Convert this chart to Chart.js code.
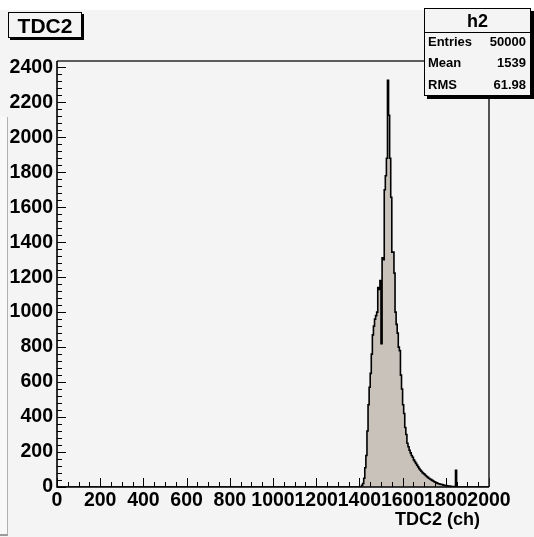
<!DOCTYPE html>
<html><head><meta charset="utf-8">
<script src="https://cdn.jsdelivr.net/npm/chart.js@4.4.0/dist/chart.umd.min.js"></script>
<style>
html,body{margin:0;padding:0;background:#fff;}
#wrap{position:relative;width:534px;height:537px;overflow:hidden;background:#fff;}
#pad{position:absolute;left:0;top:10px;width:534px;height:527px;background:#f4f4f4;}
#side{position:absolute;left:0;top:117px;width:7px;height:417px;background:#f9f9f9;border-right:1px solid #b0b0b0;border-bottom:2px solid #9a9a9a;}
#c{position:absolute;left:0;top:0;}
.t{position:absolute;font-family:"Liberation Sans",Arial,sans-serif;font-weight:bold;color:#000;white-space:nowrap;}
#title{left:8px;top:12px;width:72px;height:24px;border:1px solid #000;box-shadow:2px 2px 0 #000;background:#f4f4f4;font-size:21px;line-height:25px;text-align:center;}
#stats{left:424px;top:8px;width:105px;height:86px;border:1px solid #000;box-shadow:3px 3px 0 #000;background:#f4f4f4;}
#stats .hd{position:absolute;left:0;top:0;width:105px;height:23px;border-bottom:1px solid #000;font-size:18px;line-height:24px;text-align:center;}
#stats .l{position:absolute;left:3px;font-size:13px;line-height:15px;}
#stats .v{position:absolute;right:4px;font-size:13px;line-height:15px;text-align:right;}
#xtitle{left:395px;top:509px;font-size:18px;}
</style>
</head><body>
<div id="wrap">
  <div id="pad"></div>
  <div id="side"></div>
  <canvas id="c" width="534" height="537"></canvas>
  <div id="title" class="t">TDC2</div>
  <div id="stats" class="t">
    <div class="hd">h2</div>
    <div class="l" style="top:25px">Entries</div><div class="v" style="top:25px">50000</div>
    <div class="l" style="top:46px">Mean</div><div class="v" style="top:46px">1539</div>
    <div class="l" style="top:68px">RMS</div><div class="v" style="top:68px">61.98</div>
  </div>
  <div id="xtitle" class="t">TDC2 (ch)</div>
</div>
<script>
// ---- data ----
const histName = "h2";
const xTitle = "TDC2 (ch)";
const xRange = [0, 2000];
const yMax = 2436;
const xTickValues = [0,200,400,600,800,1000,1200,1400,1600,1800,2000];
const yTickValues = [0,200,400,600,800,1000,1200,1400,1600,1800,2000,2200,2400];
const firstBinLow = 1400;   // lower edge of first listed bin (channels)
const binWidth = 5;         // channels per bin
const binCounts = [
  0, 0, 10, 20, 50, 110, 180, 320, 470, 570,
  650, 760, 870, 920, 960, 980, 1000, 1140, 1130, 1180,
  820, 1310, 1300, 1700, 1780, 1880, 2326, 2126, 1880, 1657,
  1343, 1343, 1223, 1000, 930, 880, 800, 780, 640, 560,
  470, 420, 340, 300, 250, 230, 210, 195, 180, 170,
  155, 145, 135, 125, 115, 105, 97, 90, 82, 77,
  72, 66, 60, 55, 50, 46, 42, 38, 34, 30,
  27, 24, 21, 19, 17, 15, 14, 12, 10, 9,
  8, 7, 6, 5, 4, 3, 2, 2, 1, 95,
  0
];

// ---- build step data (lower bin edges) ----
const pts = [{x: xRange[0], y: 0}];
binCounts.forEach((c, i) => pts.push({x: firstBinLow + i * binWidth, y: c}));
pts.push({x: firstBinLow + binCounts.length * binWidth, y: 0});
pts.push({x: xRange[1], y: 0});

const FONT = '"Liberation Sans", Arial, sans-serif';

const frameTicks = {
  id: 'frameTicks',
  afterDatasetsDraw(chart) {
    const {ctx, chartArea: a, scales: {x, y}} = chart;
    ctx.save();
    ctx.strokeStyle = '#000';
    ctx.lineWidth = 1;
    ctx.beginPath();
    for (let v = xRange[0]; v <= xRange[1]; v += 50) {
      const px = Math.round(x.getPixelForValue(v)) + 0.5;
      const len = (v % 200 === 0) ? 9 : 5;
      ctx.moveTo(px, a.bottom); ctx.lineTo(px, a.bottom - len);
    }
    for (let v = 0; v <= yMax; v += 40) {
      const py = Math.round(y.getPixelForValue(v)) + 0.5;
      const len = (v % 200 === 0) ? 9 : 5;
      ctx.moveTo(a.left, py); ctx.lineTo(a.left + len, py);
    }
    ctx.stroke();
    ctx.lineWidth = 1.6;
    ctx.strokeStyle = '#2a2a2a';
    ctx.beginPath();
    ctx.moveTo(a.left, a.top); ctx.lineTo(a.right, a.top); ctx.lineTo(a.right, a.bottom);
    ctx.stroke();
    ctx.strokeStyle = '#000';
    ctx.beginPath();
    ctx.moveTo(a.left, a.top); ctx.lineTo(a.left, a.bottom); ctx.lineTo(a.right, a.bottom);
    ctx.stroke();
    ctx.restore();
  }
};

new Chart(document.getElementById('c'), {
  type: 'line',
  data: {
    datasets: [{
      label: histName,
      data: pts,
      stepped: 'before',
      borderColor: '#000',
      borderWidth: 1.6,
      backgroundColor: '#c9c2bb',
      fill: 'origin',
      pointRadius: 0,
      tension: 0
    }]
  },
  options: {
    responsive: false,
    animation: false,
    events: [],
    layout: {padding: {left: 0, top: 61, right: 45, bottom: 0}},
    plugins: {legend: {display: false}, tooltip: {enabled: false}, title: {display: false}},
    scales: {
      x: {
        type: 'linear', min: xRange[0], max: xRange[1],
        afterBuildTicks: s => { s.ticks = xTickValues.map(v => ({value: v})); },
        afterFit: s => { s.height = 50; },
        grid: {display: false, drawTicks: false},
        border: {display: false},
        ticks: {autoSkip: false, maxRotation: 0, minRotation: 0, padding: 2,
                color: '#000', font: {family: FONT, weight: 'bold', size: 19.5},
                callback: v => String(v)}
      },
      y: {
        type: 'linear', min: 0, max: yMax,
        afterBuildTicks: s => { s.ticks = yTickValues.map(v => ({value: v})); },
        afterFit: s => { s.width = 57; },
        grid: {display: false, drawTicks: false},
        border: {display: false},
        ticks: {padding: 4, color: '#000', font: {family: FONT, weight: 'bold', size: 19.5},
                callback: v => String(v)}
      }
    }
  },
  plugins: [frameTicks]
});
</script>
</body></html>
